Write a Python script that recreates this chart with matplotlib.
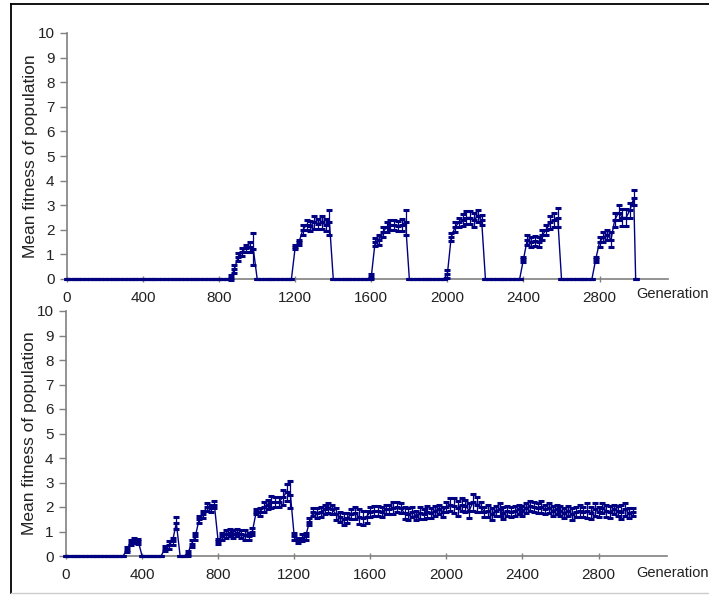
import numpy as np
import matplotlib
matplotlib.use("Agg")
import matplotlib.pyplot as plt
from matplotlib.lines import Line2D

plt.rcParams["font.family"] = ["Liberation Sans", "DejaVu Sans"]

# sampled every 20 generations, 0 .. 2980 (one row = 200 generations)
gens = np.arange(0, 3000, 20)

top_fit = [
    0, 0, 0, 0, 0, 0, 0, 0, 0, 0,
    0, 0, 0, 0, 0, 0, 0, 0, 0, 0,
    0, 0, 0, 0, 0, 0, 0, 0, 0, 0,
    0, 0, 0, 0, 0, 0, 0, 0, 0, 0,
    0, 0, 0, 0.05, 0.4, 0.9, 1.1, 1.25, 1.3, 1.2,
    0, 0, 0, 0, 0, 0, 0, 0, 0, 0,
    1.3, 1.5, 2.0, 2.2, 2.15, 2.3, 2.25, 2.3, 2.2, 2.3,
    0, 0, 0, 0, 0, 0, 0, 0, 0, 0,
    0.1, 1.5, 1.6, 1.9, 2.1, 2.2, 2.2, 2.15, 2.2, 2.3,
    0, 0, 0, 0, 0, 0, 0, 0, 0, 0,
    0.2, 1.7, 2.1, 2.3, 2.4, 2.5, 2.5, 2.4, 2.55, 2.4,
    0, 0, 0, 0, 0, 0, 0, 0, 0, 0,
    0.8, 1.6, 1.5, 1.55, 1.5, 1.8, 2.0, 2.3, 2.4, 2.5,
    0, 0, 0, 0, 0, 0, 0, 0, 0, 0.8,
    1.5, 1.7, 1.8, 1.6, 2.4, 2.7, 2.5, 2.5, 2.8, 3.3,
]
top_err = [
    0, 0, 0, 0, 0, 0, 0, 0, 0, 0,
    0, 0, 0, 0, 0, 0, 0, 0, 0, 0,
    0, 0, 0, 0, 0, 0, 0, 0, 0, 0,
    0, 0, 0, 0, 0, 0, 0, 0, 0, 0,
    0, 0, 0, 0.1, 0.15, 0.15, 0.15, 0.15, 0.2, 0.65,
    0, 0, 0, 0, 0, 0, 0, 0, 0, 0,
    0.1, 0.1, 0.2, 0.2, 0.2, 0.25, 0.2, 0.25, 0.25, 0.5,
    0, 0, 0, 0, 0, 0, 0, 0, 0, 0,
    0.1, 0.15, 0.2, 0.2, 0.2, 0.2, 0.2, 0.2, 0.25, 0.5,
    0, 0, 0, 0, 0, 0, 0, 0, 0, 0,
    0.15, 0.15, 0.2, 0.2, 0.25, 0.25, 0.25, 0.3, 0.25, 0.2,
    0, 0, 0, 0, 0, 0, 0, 0, 0, 0,
    0.1, 0.2, 0.2, 0.2, 0.2, 0.2, 0.2, 0.25, 0.3, 0.4,
    0, 0, 0, 0, 0, 0, 0, 0, 0, 0.1,
    0.2, 0.2, 0.2, 0.3, 0.3, 0.3, 0.35, 0.35, 0.3, 0.3,
]

bot_fit = [
    0, 0, 0, 0, 0, 0, 0, 0, 0, 0,
    0, 0, 0, 0, 0, 0, 0.25, 0.55, 0.65, 0.6,
    0, 0, 0, 0, 0, 0, 0.3, 0.45, 0.6, 1.35,
    0, 0, 0.1, 0.5, 0.8, 1.5, 1.7, 2.0, 1.95, 2.1,
    0.6, 0.8, 0.9, 0.95, 0.9, 0.95, 0.9, 0.85, 0.8, 1.0,
    1.8, 1.8, 2.0, 2.1, 2.2, 2.2, 2.2, 2.4, 2.6, 2.5,
    0.8, 0.65, 0.75, 0.8, 1.4, 1.8, 1.75, 1.8, 1.9, 1.95,
    1.9, 1.7, 1.6, 1.5, 1.55, 1.7, 1.75, 1.6, 1.55, 1.6,
    1.8, 1.85, 1.85, 1.8, 1.9, 1.9, 1.95, 2.0, 1.95, 1.75,
    1.7, 1.8, 1.65, 1.75, 1.7, 1.8, 1.75, 1.85, 1.9, 1.8,
    2.0, 2.1, 2.05, 1.95, 2.1, 2.05, 1.85, 2.2, 2.1, 2.0,
    1.8, 1.85, 1.7, 1.85, 1.9, 1.75, 1.85, 1.8, 1.85, 1.9,
    1.85, 1.95, 2.05, 2.0, 1.95, 2.0, 1.9, 1.95, 1.85, 1.9,
    1.85, 1.75, 1.85, 1.7, 1.8, 1.85, 1.8, 1.85, 1.75, 1.9,
    1.8, 1.95, 1.85, 1.8, 1.9, 1.85, 1.8, 1.9, 1.75, 1.8,
]
bot_err = [
    0, 0, 0, 0, 0, 0, 0, 0, 0, 0,
    0, 0, 0, 0, 0, 0, 0.1, 0.1, 0.1, 0.1,
    0, 0, 0, 0, 0, 0, 0.1, 0.15, 0.15, 0.25,
    0, 0, 0.1, 0.15, 0.15, 0.15, 0.15, 0.15, 0.15, 0.15,
    0.1, 0.15, 0.15, 0.15, 0.15, 0.15, 0.15, 0.2, 0.15, 0.15,
    0.1, 0.15, 0.2, 0.2, 0.25, 0.2, 0.2, 0.3, 0.35, 0.55,
    0.15, 0.1, 0.15, 0.15, 0.15, 0.15, 0.2, 0.2, 0.2, 0.2,
    0.2, 0.25, 0.2, 0.25, 0.2, 0.2, 0.25, 0.3, 0.3, 0.25,
    0.2, 0.2, 0.2, 0.2, 0.2, 0.2, 0.25, 0.2, 0.2, 0.25,
    0.25, 0.2, 0.2, 0.25, 0.2, 0.25, 0.2, 0.2, 0.2, 0.2,
    0.2, 0.25, 0.3, 0.3, 0.25, 0.25, 0.3, 0.35, 0.3, 0.2,
    0.2, 0.25, 0.25, 0.2, 0.25, 0.25, 0.2, 0.2, 0.2, 0.2,
    0.2, 0.2, 0.2, 0.2, 0.2, 0.25, 0.2, 0.2, 0.2, 0.2,
    0.2, 0.2, 0.2, 0.25, 0.2, 0.25, 0.2, 0.3, 0.25, 0.25,
    0.2, 0.2, 0.25, 0.25, 0.2, 0.2, 0.3, 0.25, 0.2, 0.15,
]

# drop to zero at the very end of the top run
end_gen, end_fit = 2990, 0.0

y_ticks = list(range(0, 11))
x_ticks = [0, 400, 800, 1200, 1600, 2000, 2400, 2800]
ylabel = "Mean fitness of population"
xlabel = "Generation"

NAVY = "#000080"
AXC = "#808080"
TXT = "#222222"
W, H = 709, 595

fig = plt.figure(figsize=(W / 100, H / 100), dpi=100)


def px_axes(left, top, right, bottom):
    return fig.add_axes([left / W, 1 - bottom / H, (right - left) / W, (bottom - top) / H])


ax_top = px_axes(67, 33, 668, 279)
ax_bot = px_axes(66, 311, 667, 556)

panels = [
    (ax_top, list(gens) + [end_gen], top_fit + [end_fit], top_err + [0], 294),
    (ax_bot, list(gens), bot_fit, bot_err, 573),
]
for ax, x, y, e, gy in panels:
    ax.errorbar(x, y, yerr=e, color=NAVY, lw=1.0, elinewidth=0.9, capsize=2.5,
                capthick=1.4, marker="_", ms=4.5, mew=2.2, zorder=3, clip_on=False)
    ax.set_xlim(0, 3160)
    ax.set_ylim(0, 10)
    ax.set_xticks(x_ticks)
    ax.set_yticks(y_ticks)
    for side in ("top", "right"):
        ax.spines[side].set_visible(False)
    for side in ("left", "bottom"):
        ax.spines[side].set_color(AXC)
        ax.spines[side].set_linewidth(1.2)
    ax.tick_params(axis="y", direction="out", length=5, width=1, color=AXC,
                   labelsize=11, labelcolor=TXT, pad=4)
    ax.tick_params(axis="x", direction="inout", length=5, width=1, color=AXC,
                   labelsize=11, labelcolor=TXT, pad=6)
    ax.set_ylabel(ylabel, fontsize=12.5, color=TXT)
    ax.yaxis.set_label_coords(-29 / 601, 0.5)
    ax.patch.set_visible(False)
    fig.text(636 / W, 1 - gy / H, xlabel, fontsize=10.5, color=TXT, ha="left", va="center")

# outer frame (left and top edges) and faint bottom edge
fig.add_artist(Line2D([11 / W, 11 / W], [1 - 593 / H, 1 - 4 / H], color="black", lw=1.3))
fig.add_artist(Line2D([11 / W, 1], [1 - 4 / H, 1 - 4 / H], color="black", lw=1.3))
fig.add_artist(Line2D([11 / W, 1], [1 - 593 / H, 1 - 593 / H], color="#cccccc", lw=1.0))

fig.savefig("out.png", dpi=100)
